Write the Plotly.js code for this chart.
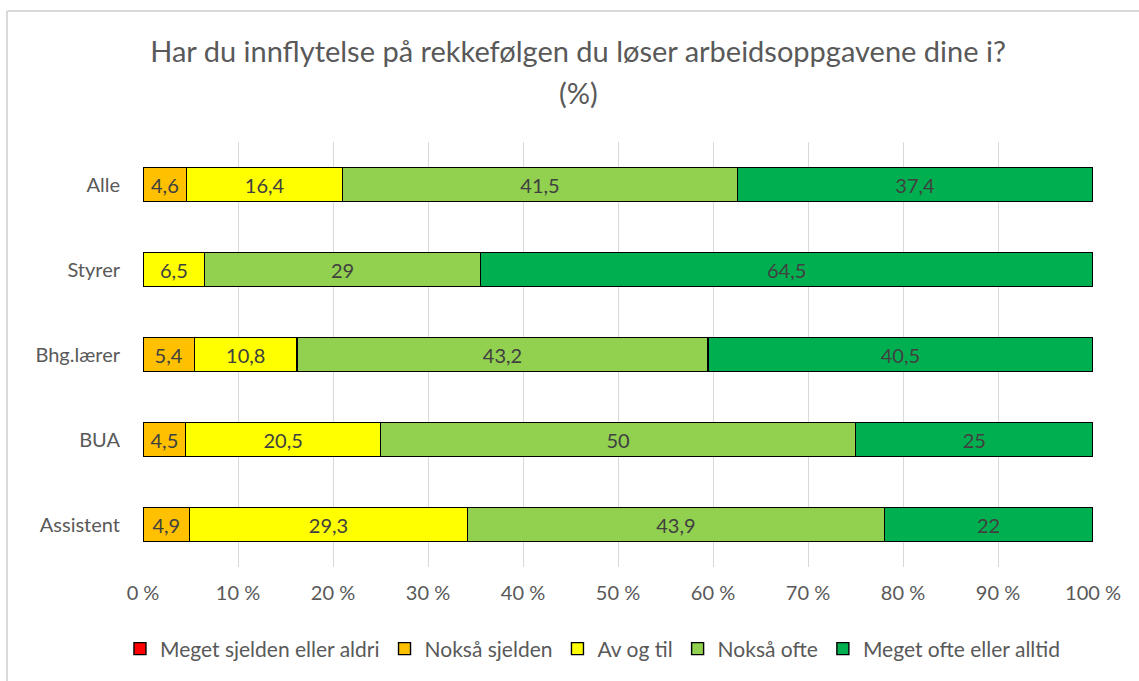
<!DOCTYPE html>
<html>
<head>
<meta charset="utf-8">
<script src="https://cdn.plot.ly/plotly-3.0.1.min.js"></script>
<style>html,body{margin:0;padding:0;background:#fff;}#chart{width:1139px;height:681px;}</style>
</head>
<body>
<div id="chart"></div>
<script>
var categories = ['Alle', 'Styrer', 'Bhg.lærer', 'BUA', 'Assistent'];
var seriesNames = ['Meget sjelden eller aldri', 'Nokså sjelden', 'Av og til', 'Nokså ofte', 'Meget ofte eller alltid'];
var megetSjelden = [0, 0, 0, 0, 0];
var noksaSjelden = [4.6, 0, 5.4, 4.5, 4.9];
var avOgTil = [16.4, 6.5, 10.8, 20.5, 29.3];
var noksaOfte = [41.5, 29, 43.2, 50, 43.9];
var megetOfte = [37.4, 64.5, 40.5, 25, 22];
var xTickVals = [0, 10, 20, 30, 40, 50, 60, 70, 80, 90, 100];
var xTickText = ['0 %', '10 %', '20 %', '30 %', '40 %', '50 %', '60 %', '70 %', '80 %', '90 %', '100 %'];

var seriesValues = [megetSjelden, noksaSjelden, avOgTil, noksaOfte, megetOfte];
var colors = ['#FF0000', '#FFC000', '#FFFF00', '#92D050', '#00B050'];
var FONT = 'Lato, "Open Sans", sans-serif';

function fmt(v) { return v === 0 ? '' : String(v).replace('.', ','); }

var traces = seriesValues.map(function (vals, i) {
  return {
    type: 'bar',
    orientation: 'h',
    name: seriesNames[i],
    y: categories,
    x: vals,
    text: vals.map(fmt),
    textposition: 'inside',
    insidetextanchor: 'middle',
    constraintext: 'none',
    textfont: {family: FONT, size: 20, color: '#404040'},
    marker: {color: colors[i], line: {color: '#000000', width: 1.4}},
    hoverinfo: 'skip'
  };
});

var layout = {
  width: 1139,
  height: 681,
  barmode: 'stack',
  barnorm: 'percent',
  bargap: 0.6,
  paper_bgcolor: '#ffffff',
  plot_bgcolor: '#ffffff',
  margin: {l: 143, r: 46, t: 142, b: 114},
  font: {family: FONT, color: '#595959'},
  showlegend: true,
  title: {
    text: 'Har du innflytelse på rekkefølgen du løser arbeidsoppgavene dine i?',
    font: {family: FONT, size: 29, color: '#595959'},
    x: 0.5075, xref: 'container', xanchor: 'center',
    y: 0.9236, yref: 'container', yanchor: 'middle'
  },
  annotations: [{
    text: '(%)', showarrow: false,
    xref: 'paper', yref: 'paper',
    x: 0.4579, y: 1.1153, xanchor: 'center', yanchor: 'middle',
    font: {family: FONT, size: 29, color: '#595959'}
  }],
  xaxis: {
    range: [0, 100],
    tickvals: xTickVals,
    ticktext: xTickText,
    showgrid: true,
    gridcolor: '#D9D9D9',
    gridwidth: 1,
    zeroline: false,
    showline: false,
    ticks: '',
    ticklabelstandoff: 12,
    tickfont: {family: FONT, size: 20, color: '#595959'},
    fixedrange: true
  },
  yaxis: {
    autorange: 'reversed',
    showgrid: false,
    zeroline: false,
    showline: false,
    ticks: '',
    ticklabelstandoff: 22,
    tickfont: {family: FONT, size: 20, color: '#595959'},
    fixedrange: true
  },
  legend: {
    orientation: 'h',
    xref: 'container', yref: 'container',
    x: 0.5206, xanchor: 'center',
    y: 0.047, yanchor: 'middle',
    font: {family: FONT, size: 21, color: '#595959'},
    traceorder: 'normal'
  },
  shapes: [
    {type: 'line', xref: 'paper', yref: 'paper', x0: -0.1432, x1: -0.1432, y0: -0.5, y1: 1.3082, line: {color: '#D9D9D9', width: 2}},
    {type: 'line', xref: 'paper', yref: 'paper', x0: -0.1432, x1: 1.2, y0: 1.3082, y1: 1.3082, line: {color: '#D9D9D9', width: 2}}
  ]
};

Plotly.newPlot('chart', traces, layout, {displayModeBar: false, staticPlot: true});
</script>
</body>
</html>
